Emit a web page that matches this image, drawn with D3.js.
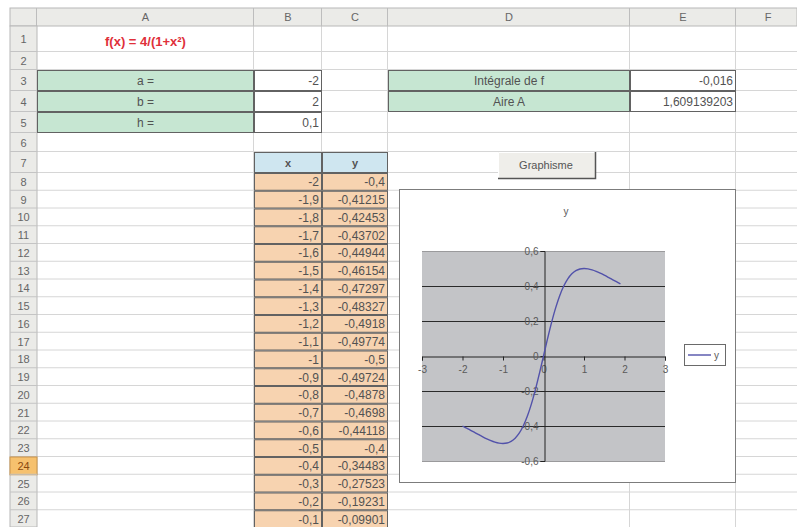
<!DOCTYPE html>
<html>
<head>
<meta charset="utf-8">
<script src="https://cdn.jsdelivr.net/npm/d3@7"></script>
<style>
  html, body { margin: 0; padding: 0; background: #fff; }
  svg { display: block; font-family: Arial, "Liberation Sans", sans-serif; }
</style>
</head>
<body>
<svg id="sheet" width="797" height="527"></svg>
<script>
// ---- Data ----
const formulaText = "f(x) = 4/(1+x²)";
const paramLabels = ["a =", "b =", "h ="];
const paramValues = [-2, 2, 0.1];
const resultLabels = ["Intégrale de f", "Aire A"];
const resultValues = ["-0,016", "1,609139203"];
const columnNames = ["A", "B", "C", "D", "E", "F"];

const xValues = [-2, -1.9, -1.8, -1.7, -1.6, -1.5, -1.4, -1.3, -1.2, -1.1,
                 -1, -0.9, -0.8, -0.7, -0.6, -0.5, -0.4, -0.3, -0.2, -0.1,
                 0, 0.1, 0.2, 0.3, 0.4, 0.5, 0.6, 0.7, 0.8, 0.9,
                 1, 1.1, 1.2, 1.3, 1.4, 1.5, 1.6, 1.7, 1.8, 1.9];
const yValues = [-0.4, -0.41215, -0.42453, -0.43702, -0.44944, -0.46154, -0.47297, -0.48327, -0.4918, -0.49774,
                 -0.5, -0.49724, -0.4878, -0.4698, -0.44118, -0.4, -0.34483, -0.27523, -0.19231, -0.09901,
                 0, 0.09901, 0.19231, 0.27523, 0.34483, 0.4, 0.44118, 0.4698, 0.4878, 0.49724,
                 0.5, 0.49774, 0.4918, 0.48327, 0.47297, 0.46154, 0.44944, 0.43702, 0.42453, 0.41215];
const xTicks = [-3, -2, -1, 0, 1, 2, 3];
const yTicks = [-0.6, -0.4, -0.2, 0, 0.2, 0.4, 0.6];
const seriesName = "y";

// ---- Sheet layout ----
const svg = d3.select("#sheet");
const colEdges = [10, 37, 254, 322, 388, 630, 736, 800];
const headerTop = 8, headerBottom = 26;
const rowHeights = [26, 18, 21, 21, 21, 19, 21];
const stdRow = 17.75, lastRow = 27, selectedRow = 24;
const rowTop = [headerBottom];
for (let r = 1; r <= lastRow; r++) {
  rowTop.push(rowTop[r - 1] + (r <= rowHeights.length ? rowHeights[r - 1] : stdRow));
}
// rowTop[r-1] = top of row r, rowTop[r] = bottom of row r
const rTop = r => rowTop[r - 1], rBot = r => rowTop[r];
const cL = c => colEdges[c + 1], cR = c => colEdges[c + 2]; // c: 0 = A
const comma = v => String(v).replace(".", ",");

const textCol = "#525252";

// grid lines
const grid = svg.append("g");
for (let r = 1; r <= lastRow; r++) {
  grid.append("line").attr("x1", colEdges[1]).attr("x2", 797)
    .attr("y1", rBot(r) - 0.5).attr("y2", rBot(r) - 0.5)
    .attr("stroke", "#d6d6d6");
}
colEdges.slice(2, 7).forEach(x => {
  grid.append("line").attr("x1", x - 0.5).attr("x2", x - 0.5)
    .attr("y1", headerBottom).attr("y2", 527).attr("stroke", "#d6d6d6");
});

// column header bar
const colHead = svg.append("g");
colHead.append("rect").attr("x", colEdges[0]).attr("y", headerTop)
  .attr("width", 797 - colEdges[0]).attr("height", headerBottom - headerTop)
  .attr("fill", "#ebebe8").attr("stroke", "#b8b8b8");
colEdges.slice(1, 7).forEach(x => {
  colHead.append("line").attr("x1", x - 0.5).attr("x2", x - 0.5)
    .attr("y1", headerTop).attr("y2", headerBottom).attr("stroke", "#bdbdbd");
});
columnNames.forEach((n, i) => {
  colHead.append("text").attr("x", (colEdges[i + 1] + colEdges[i + 2]) / 2)
    .attr("y", 21).attr("text-anchor", "middle").attr("font-size", 11)
    .attr("fill", "#666").text(n);
});

// row header column
const rowHead = svg.append("g");
rowHead.append("rect").attr("x", colEdges[0]).attr("y", headerBottom)
  .attr("width", colEdges[1] - colEdges[0]).attr("height", 527 - headerBottom)
  .attr("fill", "#ebebe8").attr("stroke", "#b8b8b8");
for (let r = 1; r <= lastRow; r++) {
  if (r === selectedRow) {
    rowHead.append("rect").attr("x", colEdges[0]).attr("y", rTop(r))
      .attr("width", colEdges[1] - colEdges[0]).attr("height", rBot(r) - rTop(r))
      .attr("fill", "#f6c16e").attr("stroke", "#c9944a");
  }
  rowHead.append("line").attr("x1", colEdges[0]).attr("x2", colEdges[1])
    .attr("y1", rBot(r) - 0.5).attr("y2", rBot(r) - 0.5).attr("stroke", "#c4c4c4");
  rowHead.append("text").attr("x", (colEdges[0] + colEdges[1]) / 2)
    .attr("y", (rTop(r) + rBot(r)) / 2 + 4).attr("text-anchor", "middle")
    .attr("font-size", 11).attr("fill", r === selectedRow ? "#8a4a10" : "#666").text(r);
}

// formula title
svg.append("text").attr("x", (cL(0) + cR(0)) / 2).attr("y", 46)
  .attr("text-anchor", "middle").attr("font-size", 13).attr("font-weight", "bold")
  .attr("fill", "#e0303a").text(formulaText);

// a, b, h parameter block
function cell(c, r, fill, txt, anchor, bold) {
  const g = svg.append("g");
  g.append("rect").attr("x", cL(c) + 0.5).attr("y", rTop(r) + 0.5)
    .attr("width", cR(c) - cL(c) - 1).attr("height", rBot(r) - rTop(r) - 1)
    .attr("fill", fill).attr("stroke", "#626262");
  let tx = anchor === "middle" ? (cL(c) + cR(c)) / 2 : cR(c) - 3;
  g.append("text").attr("x", tx).attr("y", (rTop(r) + rBot(r)) / 2 + 4.5)
    .attr("text-anchor", anchor).attr("font-size", bold ? 11 : 12)
    .attr("font-weight", bold ? "bold" : "normal").attr("fill", textCol).text(txt);
}
paramLabels.forEach((l, i) => {
  cell(0, 3 + i, "#c6e6d2", l, "middle");
  cell(1, 3 + i, "#ffffff", comma(paramValues[i]), "end");
});
resultLabels.forEach((l, i) => {
  cell(3, 3 + i, "#c6e6d2", l, "middle");
  cell(4, 3 + i, "#ffffff", resultValues[i], "end");
});

// x / y table
cell(1, 7, "#cfe6f0", "x", "middle", true);
cell(2, 7, "#cfe6f0", "y", "middle", true);
for (let r = 8; r <= lastRow; r++) {
  const i = r - 8;
  cell(1, r, "#f7d3b0", comma(xValues[i]), "end");
  cell(2, r, "#f7d3b0", comma(yValues[i]), "end");
}

// "Graphisme" button
const btn = svg.append("g");
btn.append("rect").attr("x", 498).attr("y", 152).attr("width", 97).attr("height", 26)
  .attr("fill", "#efeeea");
btn.append("path").attr("d", "M498.5,177.5 V152.5 H594.5").attr("fill", "none").attr("stroke", "#fff");
btn.append("path").attr("d", "M498,178.5 H595.5 V152").attr("fill", "none").attr("stroke", "#555").attr("stroke-width", 1.5);
btn.append("text").attr("x", 546).attr("y", 169).attr("text-anchor", "middle")
  .attr("font-size", 11).attr("fill", "#555").text("Graphisme");

// ---- Chart ----
const chart = svg.append("g");
chart.append("rect").attr("x", 399.5).attr("y", 189.5).attr("width", 336).attr("height", 293)
  .attr("fill", "#fff").attr("stroke", "#7c7c7c");

const x = d3.scaleLinear().domain([-3, 3]).range([422, 665]);
const y = d3.scaleLinear().domain([-0.6, 0.6]).range([461, 251]);

chart.append("rect").attr("x", x(-3)).attr("y", y(0.6))
  .attr("width", x(3) - x(-3)).attr("height", y(-0.6) - y(0.6)).attr("fill", "#c3c4c7");

// horizontal gridlines
chart.append("g").selectAll("line")
  .data(yTicks.filter(t => t !== 0 && Math.abs(t) < 0.6))
  .join("line")
  .attr("x1", x(-3)).attr("x2", x(3))
  .attr("y1", d => Math.round(y(d)) + 0.5).attr("y2", d => Math.round(y(d)) + 0.5)
  .attr("stroke", "#2a2a2a");
chart.append("g").selectAll("line")
  .data([0.6, -0.6]).join("line")
  .attr("x1", x(-3)).attr("x2", x(3))
  .attr("y1", d => Math.round(y(d)) + 0.5).attr("y2", d => Math.round(y(d)) + 0.5)
  .attr("stroke", "#9a9a9c");

const fmt = v => (v === 0 ? "0" : d3.format(".1f")(v).replace(".", ",").replace("−", "-"));

const xAxis = chart.append("g").attr("transform", `translate(0,${Math.round(y(0)) + 0.5})`)
  .call(d3.axisBottom(x).tickValues(xTicks).tickSize(4).tickPadding(5)
    .tickFormat(d => String(d)));
const yAxis = chart.append("g").attr("transform", `translate(${Math.round(x(0)) + 0.5},0)`)
  .call(d3.axisLeft(y).tickValues(yTicks).tickSize(4).tickPadding(2).tickFormat(fmt));
[xAxis, yAxis].forEach(a => {
  a.select(".domain").attr("stroke", "#222");
  a.selectAll(".tick line").attr("stroke", "#222");
  a.selectAll("text").attr("fill", "#5a5a5a").attr("font-size", 10)
    .attr("font-family", "Arial, 'Liberation Sans', sans-serif");
});

// smoothed series line
const line = d3.line().x((d, i) => x(xValues[i])).y(d => y(d))
  .curve(d3.curveCatmullRom.alpha(0.5));
chart.append("path").datum(yValues).attr("d", line)
  .attr("fill", "none").attr("stroke", "#5252aa").attr("stroke-width", 1.4);

// chart title
chart.append("text").attr("x", 566).attr("y", 215).attr("text-anchor", "middle")
  .attr("font-size", 10).attr("fill", "#5a5a5a").text(seriesName);

// legend
const lg = chart.append("g");
lg.append("rect").attr("x", 684.5).attr("y", 344.5).attr("width", 41).attr("height", 21)
  .attr("fill", "#fff").attr("stroke", "#6a6a6a");
lg.append("line").attr("x1", 688).attr("x2", 711).attr("y1", 355).attr("y2", 355)
  .attr("stroke", "#5252aa").attr("stroke-width", 1.4);
lg.append("text").attr("x", 714).attr("y", 358.5).attr("font-size", 10)
  .attr("fill", "#5a5a5a").text(seriesName);
</script>
</body>
</html>
